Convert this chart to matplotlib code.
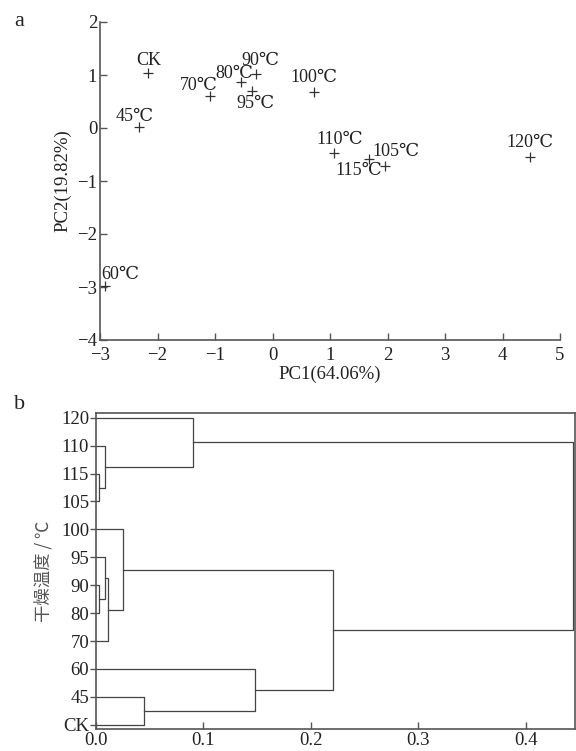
import numpy as np
import matplotlib
matplotlib.use('Agg')
import matplotlib.pyplot as plt

plt.rcParams['font.family'] = ['Liberation Serif', 'DejaVu Serif', 'Noto Sans CJK SC']

# PCA scores (panel a)
pca_names = ['CK', '45℃', '60℃', '70℃', '80℃', '90℃', '95℃', '100℃',
             '105℃', '110℃', '115℃', '120℃']
pc1 = [-2.17, -2.32, -2.92, -1.09, -0.54, -0.28, -0.36, 0.72,
       1.95, 1.07, 1.67, 4.48]
pc2 = [1.03, 0.02, -2.98, 0.60, 0.87, 1.01, 0.70, 0.68,
       -0.71, -0.48, -0.58, -0.55]

# cluster tree (panel b), leaves listed bottom -> top
leaves = ['CK', '45', '60', '70', '80', '90', '95', '100', '105', '115', '110', '120']
# merges: (child a, child b, height); ids >= len(leaves) are earlier merges
merges = [
    (8, 9, 0.0025),    # 105 + 115 -> 12
    (12, 10, 0.0087),  # + 110 -> 13
    (13, 11, 0.090),   # + 120 -> 14
    (4, 5, 0.0025),    # 80 + 90 -> 15
    (15, 6, 0.0084),   # + 95 -> 16
    (16, 3, 0.0109),   # + 70 -> 17
    (17, 7, 0.0255),   # + 100 -> 18
    (0, 1, 0.0447),    # CK + 45 -> 19
    (19, 2, 0.148),    # + 60 -> 20
    (20, 18, 0.221),   # -> 21
    (21, 14, 0.444),   # -> 22
]

# label offsets in pixels for panel a
label_off = [(1, 13), (-4, 10), (16, 11), (-11, 11), (-7, 8), (4, 14), (4, -13),
             (0, 14), (11, 14), (6, 14), (-10, -12), (0, 15)]

txt = '#222222'
spine_c = '#555555'

fig = plt.figure(figsize=(5.76, 7.51), dpi=100)

# ---- panel a ----
ax1 = fig.add_axes([100/576, 1 - 340/751, 460/576, 318/751])
ax1.plot(pc1, pc2, linestyle='none', marker='+', ms=7, mew=0.9, color='#333333')
for i in range(len(pca_names)):
    ax1.annotate(pca_names[i], (pc1[i], pc2[i]), xytext=label_off[i],
                 textcoords='offset pixels', ha='center', va='center',
                 fontsize=13, color=txt)
ax1.set_xlim(-3, 5)
ax1.set_ylim(-4, 2)
ax1.set_xticks(range(-3, 6))
ax1.set_yticks(range(-4, 3))
ax1.spines['top'].set_visible(False)
ax1.spines['right'].set_visible(False)
for s in ['left', 'bottom']:
    ax1.spines[s].set_color(spine_c)
    ax1.spines[s].set_linewidth(1.2)
ax1.tick_params(direction='in', length=5, width=1, color=spine_c,
                labelsize=13.5, labelcolor=txt)
ax1.tick_params(axis='x', pad=5)
ax1.tick_params(axis='y', pad=2)
ax1.set_xlabel('PC1(64.06%)', fontsize=13.5, color=txt, labelpad=1)
ax1.set_ylabel('PC2(19.82%)', fontsize=13.5, color=txt, labelpad=4)
fig.text(14/576, 1 - 22/751, 'a', fontsize=16, color=txt, ha='left', va='center')

# ---- panel b ----
ax2 = fig.add_axes([96/576, 1 - 729/751, 479/576, 316/751])
nodes = [(float(i), 0.0) for i in range(len(leaves))]
for a, b, h in merges:
    ya, ha_ = nodes[a]
    yb, hb = nodes[b]
    ax2.plot([ha_, h, h, hb], [ya, ya, yb, yb], color='#444444', lw=0.9)
    nodes.append(((ya + yb) / 2, h))
ax2.set_xlim(0, 0.446)
ax2.set_ylim(-0.15, len(leaves) - 1 + 0.17)
ax2.set_yticks(range(len(leaves)))
ax2.set_yticklabels(leaves)
ax2.set_xticks([0.0, 0.1, 0.2, 0.3, 0.4])
ax2.set_xticklabels(['0.0', '0.1', '0.2', '0.3', '0.4'])
for s in ax2.spines.values():
    s.set_color(spine_c)
    s.set_linewidth(1.2)
ax2.tick_params(axis='x', direction='in', length=5, width=1, color=spine_c,
                labelsize=13.5, labelcolor=txt, pad=2)
ax2.tick_params(axis='y', direction='out', length=4, width=1, color=spine_c,
                labelsize=13.5, labelcolor=txt, pad=1)
ax2.set_ylabel('干燥温度 / ℃', fontsize=12.5, color='#555555', labelpad=6,
               family=['Noto Sans CJK SC', 'DejaVu Sans'])
fig.text(14/576, 1 - 405/751, 'b', fontsize=16, color=txt, ha='left', va='center')

fig.savefig('out.png', dpi=100)
